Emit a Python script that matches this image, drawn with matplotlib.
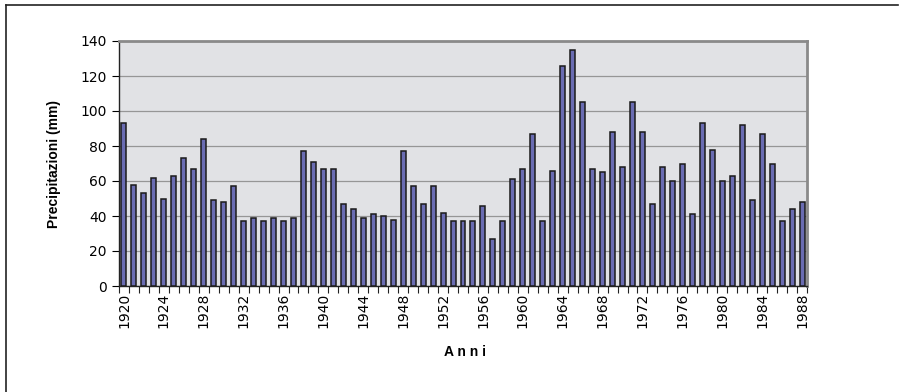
import matplotlib.pyplot as plt
from matplotlib.lines import Line2D
import numpy as np

# Annual precipitation (mm), 1920-1988
anni = list(range(1920, 1989))
precipitazioni = [
    93, 58, 53, 62, 50, 63, 73, 67, 84, 49,
    48, 57, 37, 39, 37, 39, 37, 39, 77, 71,
    67, 67, 47, 44, 39, 41, 40, 38, 77, 57,
    47, 57, 42, 37, 37, 37, 46, 27, 37, 61,
    67, 87, 37, 66, 126, 135, 105, 67, 65, 88,
    68, 105, 88, 47, 68, 60, 70, 41, 93, 78,
    60, 63, 92, 49, 87, 70, 37, 44, 48,
]
etichette = [str(a) for a in anni[::4]]

plt.rcParams['font.family'] = ['Liberation Sans', 'DejaVu Sans']

fig = plt.figure(figsize=(9.07, 3.92), dpi=100)
ax = fig.add_axes([119 / 907, 1 - 286 / 392, (807 - 119) / 907, (286 - 41) / 392])

x = np.arange(len(anni))
ax.set_facecolor('#e1e2e5')
ax.bar(x, precipitazioni, width=0.5, color='#6a6cb2', edgecolor='#1a1a1a',
       linewidth=1.1, zorder=3)

ax.set_ylim(0, 140)
ax.set_xlim(-0.5, len(anni) - 0.5)
ax.set_yticks(range(0, 141, 20))
ax.yaxis.grid(True, color='#969696', linewidth=0.9, zorder=1)

# labels every 4 years, tick marks at every category boundary
ax.set_xticks(x[::4])
ax.set_xticklabels(etichette, rotation=90, family='DejaVu Sans')
ax.set_xticks(np.arange(-0.5, len(anni), 1), minor=True)
ax.tick_params(axis='x', which='major', length=0, pad=5, labelsize=10)
ax.tick_params(axis='x', which='minor', length=5, width=0.8, color='#222222')
ax.tick_params(axis='y', length=5, width=0.8, labelsize=10, pad=4)
for t in ax.get_yticklabels():
    t.set_family('DejaVu Sans')

for s in ('left', 'bottom'):
    ax.spines[s].set_color('#222222')
    ax.spines[s].set_linewidth(1.0)
for s in ('top', 'right'):
    ax.spines[s].set_color('#8a8a8a')
    ax.spines[s].set_linewidth(2.0)

ax.set_ylabel('Precipitazioni (mm)', fontsize=10, fontweight='bold', labelpad=14)
fig.text(465 / 907, 1 - 352 / 392, 'A n n i', ha='center', va='center',
         fontsize=10, fontweight='bold')

# outer frame (top and left edges)
fig.add_artist(Line2D([6 / 907, 898 / 907], [1 - 4.5 / 392, 1 - 4.5 / 392],
                      transform=fig.transFigure, color='#222222', linewidth=1.2))
fig.add_artist(Line2D([6 / 907, 6 / 907], [1 - 4.5 / 392, 0],
                      transform=fig.transFigure, color='#222222', linewidth=1.2))

fig.savefig('out.png', dpi=100)
